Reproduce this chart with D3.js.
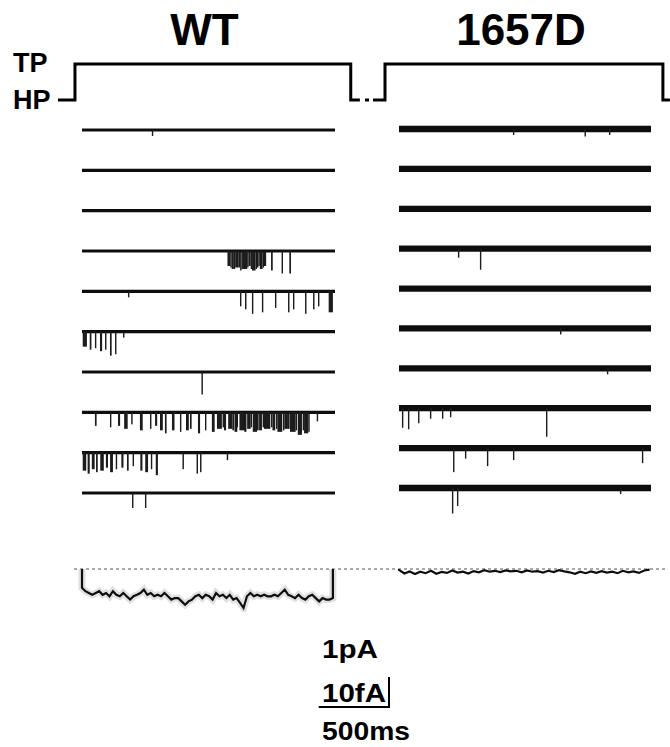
<!DOCTYPE html>
<html>
<head>
<meta charset="utf-8">
<script src="https://cdn.jsdelivr.net/npm/d3@7"></script>
<style>
  body { margin: 0; background: #fff; }
  text { font-family: "Liberation Sans", Arial, sans-serif; font-weight: bold; fill: #000; }
</style>
</head>
<body>
<svg id="fig" width="670" height="747"></svg>
<script>
// single channel openings, one list per sweep: [start ms, duration ms, amplitude pA]
var wtEvents = [
    [[497, 8, 0.2]],
    [],
    [],
    [[1035,20,0.5],[1055,8,0.55],[1065,15,0.6],[1080,8,0.6],[1090,25,0.55],[1115,8,0.55],[1125,10,0.65],[1135,8,0.6],[1145,30,0.6],[1175,8,0.55],[1185,15,0.5],[1200,8,0.6],[1210,25,0.65],[1235,8,0.6],[1245,10,0.55],[1255,8,0.5],[1265,20,0.6],[1285,8,0.55],[1295,15,0.5],[1345,12,0.65],[1420,10,0.75],[1475,12,0.75]],
    [[327,8,0.2],[1124,10,0.5],[1160,8,0.6],[1209,10,0.75],[1280,10,0.7],[1373,10,0.55],[1466,10,0.7],[1501,8,0.6],[1587,10,0.75],[1644,10,0.6],[1679,8,0.5],[1755,30,0.7]],
    [[5,30,0.5],[55,12,0.6],[92,10,0.55],[128,15,0.65],[164,10,0.6],[199,12,0.8],[235,10,0.75],[292,8,0.2]],
    [[850,10,0.75]],
    [[92,12,0.45],[199,10,0.5],[256,15,0.45],[300,25,0.55],[350,10,0.4],[412,20,0.6],[484,10,0.55],[520,15,0.45],[555,20,0.6],[590,12,0.7],[640,18,0.6],[697,10,0.65],[740,20,0.6],[768,12,0.55],[825,15,0.7],[875,10,0.6],[924,20,0.65],[960,35,0.55],[1000,8,0.5],[1010,15,0.6],[1040,30,0.55],[1070,12,0.6],[1085,20,0.65],[1100,10,0.5],[1120,40,0.6],[1155,15,0.65],[1175,25,0.55],[1200,10,0.5],[1215,30,0.65],[1245,12,0.6],[1260,20,0.6],[1285,8,0.5],[1295,45,0.55],[1345,8,0.5],[1355,20,0.6],[1380,8,0.55],[1390,35,0.65],[1430,8,0.6],[1440,25,0.55],[1465,12,0.55],[1480,40,0.65],[1520,10,0.6],[1535,30,0.75],[1570,8,0.6],[1580,30,0.7],[1610,10,0.65],[1670,10,0.3]],
    [[5,25,0.6],[40,15,0.7],[70,20,0.55],[100,12,0.65],[130,25,0.6],[170,15,0.5],[200,20,0.65],[240,10,0.55],[280,15,0.5],[320,12,0.6],[360,10,0.45],[415,15,0.6],[450,20,0.65],[490,10,0.55],[525,15,0.75],[715,10,0.55],[815,10,0.7],[840,8,0.65],[1030,8,0.25]],
    [[356,10,0.5],[448,10,0.5]]
];

var mutEvents = [
    [[814,10,0.2],[1325,8,0.25],[1500,8,0.2]],
    [],
    [],
    [[421,10,0.3],[578,10,0.7]],
    [],
    [[1150,8,0.2]],
    [[1485,8,0.2]],
    [[21,10,0.65],[64,10,0.7],[136,10,0.5],[221,10,0.35],[307,10,0.35],[364,8,0.3],[1050,10,0.95]],
    [[386,10,0.8],[471,8,0.35],[628,10,0.6],[814,10,0.4],[1735,10,0.5]],
    [[378,10,0.85],[414,10,0.6],[1578,8,0.2]]
];

// ensemble averages (fA), sampled evenly over the pulse
var wtAvg = [6.3,7.4,8,8.6,8,7.4,8.6,8,9.1,7.4,8.6,9.1,8,9.1,10.2,9.1,8.6,8,6.9,8.6,8,9.1,8.6,9.1,8,9.1,10.2,9.7,9.7,10.8,11.9,10.8,10.2,
             9.1,8.6,9.7,8.6,9.1,10.2,8,9.1,8.6,9.7,8.6,10.2,9.7,11.3,13,9.1,8,9.1,8.6,9.1,8.6,9.1,9.1,8.6,9.1,8,6.9,8.6,9.1,9.7,8.6,9.7,10.2,9.1,8.6,9.7,10.8,9.7,10.2,10.2,9.7];
var mutAvg = [0.3,1.5,0.8,1.7,0.9,1.4,0.6,1.6,1.0,1.3,0.5,1.2,0.9,1.5,0.7,1.1,0.4,0.9,0.6,1.0,0.5,0.8,0.6,1.1,0.5,0.9,0.7,1.2,
              0.6,1.0,0.4,0.8,1.1,1.6,0.9,1.4,0.8,1.3,0.7,1.2,0.9,1.4,0.6,1.1,0.8,1.3,0.5,0.2];

// voltage protocol, ms vs level
var wtProtoT = [-171, -50, -50, 1912, 1912, 1977];
var mutProtoT = [-186, -100, -100, 1885, 1885, 1935];
var protoV = ["HP", "HP", "TP", "TP", "HP", "HP"];
var levels = ["TP", "HP"];

var pulseMs = 1800;

var svg = d3.select("#fig");

var defs = svg.append("defs");
defs.append("filter").attr("id", "soft")
    .append("feGaussianBlur").attr("stdDeviation", 0.55);

var yLevel = d3.scalePoint().domain(levels).range([64, 100]);
var pA = d3.scaleLinear().domain([0, 1]).range([0, 30]);
var fA = d3.scaleLinear().domain([0, 10]).range([569, 599]);

var panels = [
    {name: "WT", events: wtEvents, avg: wtAvg, protoT: wtProtoT, avgEnd: 1785, closeAvg: true,
     x: d3.scaleLinear().domain([0, pulseMs]).range([82, 335]),
     rows: d3.scaleLinear().domain([0, 9]).range([130, 493]), band: 3.2},
    {name: "1657D", events: mutEvents, avg: mutAvg, protoT: mutProtoT, avgEnd: 1790, closeAvg: false,
     x: d3.scaleLinear().domain([0, pulseMs]).range([399, 651]),
     rows: d3.scaleLinear().domain([0, 9]).range([129, 488]), band: 6.3}
];

// zero line for the averages
svg.append("line")
    .attr("x1", 74).attr("x2", 666)
    .attr("y1", fA(0)).attr("y2", fA(0))
    .attr("stroke", "#555").attr("stroke-width", 1)
    .attr("stroke-dasharray", "3,3");

panels.forEach(function(p) {
    var x = p.x;
    var g = svg.append("g");

    g.append("text")
        .attr("x", (x(0) + x(pulseMs)) / 2 - 4)
        .attr("y", 45)
        .attr("text-anchor", "middle")
        .attr("font-size", 44)
        .text(p.name);

    var proto = d3.line()
        .x(function(d) { return x(d[0]); })
        .y(function(d) { return yLevel(d[1]); });
    g.append("path")
        .attr("d", proto(d3.zip(p.protoT, protoV)))
        .attr("fill", "none").attr("stroke", "#000").attr("stroke-width", 3);

    var tr = g.append("g").attr("filter", "url(#soft)");
    p.events.forEach(function(ev, i) {
        var base = p.rows(i);
        // noise band
        tr.append("line")
            .attr("x1", x(0)).attr("x2", x(pulseMs))
            .attr("y1", base).attr("y2", base)
            .attr("stroke", "#111").attr("stroke-width", p.band);
        tr.selectAll(null)
            .data(ev)
            .enter().append("rect")
            .attr("x", function(d) { return x(d[0]); })
            .attr("width", function(d) { return Math.max(1.4, x(d[0] + d[1]) - x(d[0])); })
            .attr("y", base)
            .attr("height", function(d) { return pA(d[2]); })
            .attr("fill", "#1a1a1a");
    });

    var step = p.avgEnd / (p.avg.length - 1);
    var avgPts = [[0, 0]].concat(p.avg.map(function(v, i) { return [i * step, v]; }));
    if (p.closeAvg) avgPts.push([p.avgEnd, 0]);
    var avgLine = d3.line()
        .x(function(d) { return x(d[0]); })
        .y(function(d) { return fA(d[1]); });
    var ag = g.append("g").attr("filter", "url(#soft)");
    if (p.closeAvg) {
        ag.append("path")
            .attr("d", avgLine(avgPts))
            .attr("fill", "none").attr("stroke", "#ccc").attr("stroke-width", 7).attr("opacity", 0.6);
    }
    ag.append("path")
        .attr("d", avgLine(avgPts))
        .attr("fill", "none").attr("stroke", "#111").attr("stroke-width", 2.2);
});

// small dash between the two protocols
svg.append("line")
    .attr("x1", 365).attr("x2", 369)
    .attr("y1", yLevel("HP")).attr("y2", yLevel("HP"))
    .attr("stroke", "#000").attr("stroke-width", 3);

svg.append("text").attr("x", 13).attr("y", 72).attr("font-size", 27).text("TP");
svg.append("text").attr("x", 13).attr("y", 109).attr("font-size", 27).text("HP");

// scale bar: 1 pA (sweeps) or 10 fA (averages) by 500 ms
var xs = panels[0].x;
var barR = 389, barB = 707;
var bar = d3.path();
bar.moveTo(barR, barB - pA(1));
bar.lineTo(barR, barB);
bar.lineTo(barR - (xs(500) - xs(0)), barB);
svg.append("path").attr("d", bar.toString())
    .attr("fill", "none").attr("stroke", "#000").attr("stroke-width", 2);

svg.append("text").attr("x", 322).attr("y", 658).attr("font-size", 26)
    .attr("textLength", 56).attr("lengthAdjust", "spacingAndGlyphs").text("1pA");
svg.append("text").attr("x", 322).attr("y", 702).attr("font-size", 26)
    .attr("textLength", 64).attr("lengthAdjust", "spacingAndGlyphs").text("10fA");
svg.append("text").attr("x", 322).attr("y", 740).attr("font-size", 26)
    .attr("textLength", 88).attr("lengthAdjust", "spacingAndGlyphs").text("500ms");
</script>
</body>
</html>
